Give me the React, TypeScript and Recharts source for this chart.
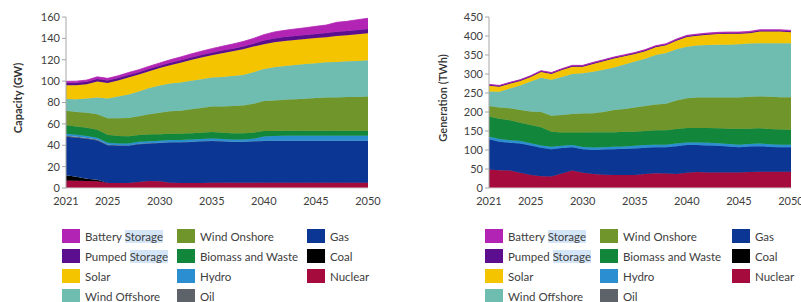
import { AreaChart, Area, XAxis, YAxis } from 'recharts'

const YEARS = [
  2021, 2022, 2023, 2024, 2025, 2026, 2027, 2028, 2029, 2030,
  2031, 2032, 2033, 2034, 2035, 2036, 2037, 2038, 2039, 2040,
  2041, 2042, 2043, 2044, 2045, 2046, 2047, 2048, 2049, 2050,
]
const X_TICKS = [2021, 2025, 2030, 2035, 2040, 2045, 2050]
const CAP_TICKS = [0, 20, 40, 60, 80, 100, 120, 140, 160]
const GEN_TICKS = [0, 50, 100, 150, 200, 250, 300, 350, 400, 450]

// Capacity (GW)
const capNuclear = [7, 6.8, 6.5, 6.3, 4.7, 4.6, 4.7, 5.5, 6.5, 6.2, 5, 4.7, 4.7, 4.7, 5, 5, 4.8, 4.8, 4.8, 5, 5, 5, 5, 5, 5, 5, 5, 5, 5, 5]
const capCoal = [5, 3.8, 2.2, 1.5, 0, 0, 0, 0, 0, 0, 0, 0, 0, 0, 0, 0, 0, 0, 0, 0, 0, 0, 0, 0, 0, 0, 0, 0, 0, 0]
const capGas = [36, 36.4, 37.3, 36.7, 35.3, 34.9, 34.8, 35.5, 35, 35.8, 37.5, 37.8, 38.3, 38.8, 39, 38.5, 38.2, 38.2, 38.7, 39, 39, 39, 39, 39, 39, 39, 39, 39, 39, 39]
const capOil = [1, 1, 0.9, 0.8, 0.5, 0.4, 0.3, 0.3, 0.3, 0.3, 0.3, 0.3, 0.3, 0.3, 0.3, 0.3, 0.3, 0.3, 0.3, 0.3, 0.3, 0.3, 0.3, 0.3, 0.3, 0.3, 0.3, 0.3, 0.3, 0.3]
const capHydro = [1.8, 1.8, 1.8, 1.8, 1.8, 1.8, 1.8, 1.9, 1.9, 2, 2, 2, 2, 2, 2, 2, 2, 2, 2.2, 4, 4.3, 4.5, 4.5, 4.5, 4.5, 4.5, 4.5, 4.5, 4.5, 4.5]
const capBiomass = [8, 7.8, 7.6, 7.5, 7.5, 7, 6.8, 6.5, 6.3, 6, 6, 6, 6, 6, 6, 6, 6, 6, 5.8, 5, 4.8, 4.8, 4.8, 4.8, 4.8, 4.8, 4.8, 4.8, 4.8, 4.8]
const capOnshore = [13.5, 13.5, 14, 14.5, 15.5, 16.5, 17, 17.5, 19, 20, 21, 21.5, 22.5, 23, 24, 24.5, 25.5, 26, 27, 28, 28.5, 29, 29.5, 30, 30.5, 31, 31, 31.5, 31.5, 32]
const capOffshore = [11, 12, 13.5, 15.5, 18.5, 20.5, 22, 23, 24.5, 25.5, 26, 26.5, 26.5, 27, 27, 27.5, 28, 28.5, 29.5, 30, 31, 31.5, 32, 32.5, 32.7, 33, 33.3, 33.6, 33.8, 34]
const capSolar = [12.8, 13.1, 13.3, 15.1, 14.5, 14.9, 16.1, 15.9, 15.8, 16.4, 17.1, 18.4, 19.5, 20.3, 20.9, 22.3, 23.1, 24.1, 24.1, 23.2, 23.5, 23.4, 23.3, 23.2, 23.5, 23.5, 24.4, 24.2, 25, 25.2]
const capPumped = [2.2, 2.2, 2.2, 2.3, 2.3, 2.3, 2.3, 2.3, 2.3, 2.3, 2.4, 2.4, 2.4, 2.4, 2.4, 2.5, 2.5, 2.5, 2.6, 3.5, 3.6, 3.7, 3.8, 3.8, 3.8, 3.9, 3.9, 3.9, 4, 4]
const capBattery = [1.5, 1.6, 1.7, 2, 2, 2.1, 2.2, 2.3, 2.4, 2.5, 2.7, 3, 3.2, 3.5, 3.8, 4, 4.3, 4.6, 5, 5.5, 6, 6.3, 6.6, 6.9, 7.2, 7.5, 8.8, 9.2, 9.6, 10]

// Generation (TWh)
const genNuclear = [49, 47, 46, 40, 34, 31, 30, 38, 46, 40, 37, 35, 34, 34, 34, 37, 39, 38, 37, 40, 42, 41, 41, 41, 41, 42, 43, 43, 43, 43]
const genCoal = [0, 0, 0, 0, 0, 0, 0, 0, 0, 0, 0, 0, 0, 0, 0, 0, 0, 0, 0, 0, 0, 0, 0, 0, 0, 0, 0, 0, 0, 0]
const genGas = [79, 75, 73, 77, 78, 75, 72, 67, 61, 62, 63, 66, 68, 69, 70, 69, 68, 69, 73, 73, 71, 71, 70, 68, 66, 67, 67, 65, 64, 64]
const genOil = [0, 0, 0, 0, 0, 0, 0, 0, 0, 0, 0, 0, 0, 0, 0, 0, 0, 0, 0, 0, 0, 0, 0, 0, 0, 0, 0, 0, 0, 0]
const genHydro = [7, 7, 6.5, 6.5, 6, 6, 6.5, 6.5, 6, 6, 6.5, 6.5, 6.5, 6.5, 7, 7, 7, 7, 7, 7, 7, 7, 7, 7, 7, 7, 7, 7, 7, 7]
const genBiomass = [53, 53, 52.5, 48.5, 48, 48, 39.5, 34.5, 33, 38, 40.5, 39.5, 38.5, 38.5, 37, 37, 38, 38, 38, 38, 38, 39, 39, 40, 42, 40, 40, 40, 40, 39]
const genOnshore = [28, 30, 32, 33, 35, 40, 42, 46, 49, 50, 50, 53, 58, 60, 64, 66, 68, 70, 75, 78, 80, 80, 81, 82, 82, 84, 84, 85, 85, 86]
const genOffshore = [38, 41, 52, 65, 79, 90, 95, 100, 105, 106, 109, 111, 112, 117, 121, 124, 130, 133, 135, 136, 137, 138, 139, 139, 140, 140, 140, 141, 142, 142]
const genSolar = [15, 13.5, 12.5, 11.5, 12, 15.2, 15.3, 18.3, 18.9, 16.9, 20.6, 22.6, 23.7, 21.5, 19.5, 20, 20.2, 20.4, 22.6, 25.2, 25.5, 27.3, 28, 28.8, 27.7, 27.3, 30.8, 30.8, 30.8, 28.9]
const genPumped = [2.5, 2.5, 2.5, 2.5, 2.5, 2.5, 2.5, 2.5, 2.5, 2.5, 2.5, 2.5, 2.5, 2.5, 2.5, 2.5, 2.5, 2.5, 2.5, 2.5, 2.5, 2.5, 2.5, 2.5, 2.5, 2.5, 2.5, 2.5, 2.5, 2.5]
const genBattery = [1, 1, 1, 1, 1, 1, 1.2, 1.2, 1.3, 1.3, 1.5, 1.5, 1.5, 1.6, 1.6, 1.7, 1.8, 1.8, 1.9, 2, 2, 2, 2.1, 2.1, 2.2, 2.2, 2.3, 2.3, 2.3, 2.4]

// stacked bottom to top
const SERIES = [
  { key: 'nuclear', name: 'Nuclear', color: '#a50b3c' },
  { key: 'coal', name: 'Coal', color: '#000000' },
  { key: 'gas', name: 'Gas', color: '#0b3693' },
  { key: 'oil', name: 'Oil', color: '#5d6369' },
  { key: 'hydro', name: 'Hydro', color: '#2a8ed0' },
  { key: 'biomass', name: 'Biomass and Waste', color: '#12873b' },
  { key: 'onshore', name: 'Wind Onshore', color: '#70952a' },
  { key: 'offshore', name: 'Wind Offshore', color: '#6fbdb1' },
  { key: 'solar', name: 'Solar', color: '#f5c400' },
  { key: 'pumped', name: 'Pumped Storage', color: '#5b0f8f' },
  { key: 'battery', name: 'Battery Storage', color: '#b224b4' },
]

const LEGEND_COLUMNS = [
  ['battery', 'pumped', 'solar', 'offshore'],
  ['onshore', 'biomass', 'hydro', 'oil'],
  ['gas', 'coal', 'nuclear'],
]

const capData = YEARS.map((year, i) => ({
  year,
  nuclear: capNuclear[i], coal: capCoal[i], gas: capGas[i], oil: capOil[i], hydro: capHydro[i],
  biomass: capBiomass[i], onshore: capOnshore[i], offshore: capOffshore[i], solar: capSolar[i],
  pumped: capPumped[i], battery: capBattery[i],
}))

const genData = YEARS.map((year, i) => ({
  year,
  nuclear: genNuclear[i], coal: genCoal[i], gas: genGas[i], oil: genOil[i], hydro: genHydro[i],
  biomass: genBiomass[i], onshore: genOnshore[i], offshore: genOffshore[i], solar: genSolar[i],
  pumped: genPumped[i], battery: genBattery[i],
}))

const FONT = 'Lato, "Open Sans", sans-serif'
const TEXT = '#404040'

function LegendName({ name }: { name: string }) {
  if (!name.endsWith(' Storage')) return <span>{name}</span>
  return (
    <span>
      {name.replace(' Storage', ' ')}
      <span style={{ background: '#d3e5f7' }}>Storage</span>
    </span>
  )
}

function Panel({ left, width, data, yMax, yTicks, yAxisWidth, rightMargin, yLabel, labelX, labelBold, legendX }: any) {
  const rowsY = [236, 256, 276, 296]
  return (
    <>
      <div style={{ position: 'absolute', left, top: 0 }}>
        <AreaChart width={width} height={210} data={data} margin={{ top: 17, right: rightMargin, left: 0, bottom: 0 }}>
          <XAxis
            dataKey="year"
            type="number"
            domain={[2021, 2050]}
            ticks={X_TICKS}
            interval={0}
            height={22}
            tickLine={false}
            tickSize={4}
            tickMargin={5}
            axisLine={{ stroke: '#d0d0d0' }}
            tick={{ fontSize: 11, fill: TEXT, fontFamily: FONT }}
          />
          <YAxis
            type="number"
            domain={[0, yMax]}
            ticks={yTicks}
            interval={0}
            width={yAxisWidth}
            tickSize={4}
            axisLine={{ stroke: '#a6a6a6' }}
            tickLine={{ stroke: '#a6a6a6' }}
            tick={{ fontSize: 11, fill: TEXT, fontFamily: FONT }}
          />
          {SERIES.map((s) => (
            <Area
              key={s.key}
              dataKey={s.key}
              name={s.name}
              stackId="mix"
              type="linear"
              fill={s.color}
              fillOpacity={1}
              stroke={s.key === 'coal' || s.key === 'oil' ? 'none' : s.color}
              strokeWidth={0.8}
              dot={false}
              activeDot={false}
              isAnimationActive={false}
            />
          ))}
        </AreaChart>
      </div>
      <div
        style={{
          position: 'absolute', left: labelX, top: 98, transform: 'translate(-50%, -50%) rotate(-90deg)',
          whiteSpace: 'nowrap', fontSize: 11, fontWeight: labelBold ? 700 : 600, color: '#333', fontFamily: FONT,
        }}
      >
        {yLabel}
      </div>
      {LEGEND_COLUMNS.map((col, c) =>
        col.map((key, r) => {
          const s = SERIES.find((x) => x.key === key)!
          return (
            <div
              key={key}
              style={{
                position: 'absolute', left: legendX[c], top: rowsY[r] - 7, height: 14, display: 'flex',
                alignItems: 'center', whiteSpace: 'nowrap', fontSize: 11.5, color: TEXT, fontFamily: FONT,
              }}
            >
              <div style={{ width: 18, height: 14, background: s.color, marginRight: 5 }} />
              <LegendName name={s.name} />
            </div>
          )
        })
      )}
    </>
  )
}

export default function App() {
  return (
    <div style={{ position: 'absolute', left: 0, top: 0, width: 801, height: 302, background: '#fff', overflow: 'hidden' }}>
      <Panel
        left={0}
        width={400}
        data={capData}
        yMax={160}
        yTicks={CAP_TICKS}
        yAxisWidth={66}
        rightMargin={32}
        yLabel="Capacity (GW)"
        labelX={17}
        labelBold
        legendX={[62, 177, 307]}
      />
      <Panel
        left={400}
        width={401}
        data={genData}
        yMax={450}
        yTicks={GEN_TICKS}
        yAxisWidth={89}
        rightMargin={10}
        yLabel="Generation (TWh)"
        labelX={442}
        labelBold={false}
        legendX={[485, 600, 732]}
      />
    </div>
  )
}
